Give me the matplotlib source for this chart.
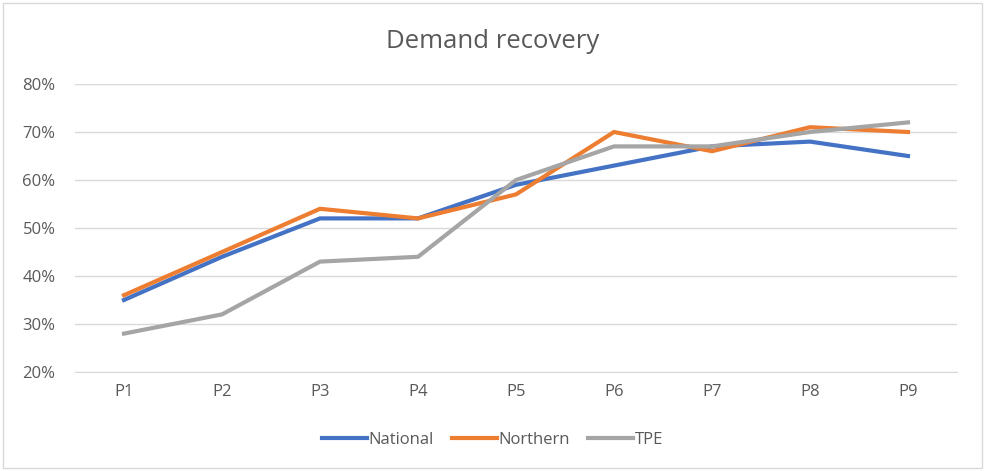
import matplotlib.pyplot as plt
from matplotlib.ticker import FuncFormatter
from matplotlib.patches import Rectangle

periods = ['P1', 'P2', 'P3', 'P4', 'P5', 'P6', 'P7', 'P8', 'P9']
national = [0.35, 0.44, 0.52, 0.52, 0.59, 0.63, 0.67, 0.68, 0.65]
northern = [0.36, 0.45, 0.54, 0.52, 0.57, 0.70, 0.66, 0.71, 0.70]
tpe = [0.28, 0.32, 0.43, 0.44, 0.60, 0.67, 0.67, 0.70, 0.72]

plt.rcParams['font.family'] = ['Open Sans', 'DejaVu Sans']

fig = plt.figure(figsize=(9.85, 4.71), dpi=100)
ax = fig.add_axes([75 / 985, 1 - 372 / 471, 882 / 985, 288 / 471])

# outer chart border
fig.patches.append(Rectangle((3 / 985, 3 / 471), 979 / 985, 465 / 471, transform=fig.transFigure,
                             fill=False, edgecolor='#d9d9d9', linewidth=1))

x = range(len(periods))
ax.plot(x, national, color='#4472c4', linewidth=3, label='National', solid_joinstyle='round')
ax.plot(x, northern, color='#ed7d31', linewidth=3, label='Northern', solid_joinstyle='round')
ax.plot(x, tpe, color='#a5a5a5', linewidth=3, label='TPE', solid_joinstyle='round')

ax.set_xlim(-0.5, 8.5)
ax.set_ylim(0.2, 0.8)
ax.set_yticks([0.2, 0.3, 0.4, 0.5, 0.6, 0.7, 0.8])
ax.yaxis.set_major_formatter(FuncFormatter(lambda v, p: f'{v * 100:.0f}%'))
ax.set_xticks(list(x))
ax.set_xticklabels(periods)
ax.grid(axis='y', color='#d9d9d9', linewidth=1)
ax.set_axisbelow(True)
for s in ['top', 'right', 'left']:
    ax.spines[s].set_visible(False)
ax.spines['bottom'].set_color('#d9d9d9')
ax.tick_params(length=0, colors='#595959', labelsize=12)
ax.tick_params(axis='y', pad=14)
ax.tick_params(axis='x', pad=9)

fig.text(0.5, 1 - 42 / 471, 'Demand recovery', ha='center', va='center', fontsize=18.5, color='#595959')

fig.legend(loc='center', bbox_to_anchor=(0.5, 1 - 440 / 471), ncol=3, frameon=False,
           fontsize=12, labelcolor='#595959', handlelength=2.7, handletextpad=0.1, columnspacing=1.1)

fig.savefig('out.png', dpi=100, facecolor='white')
